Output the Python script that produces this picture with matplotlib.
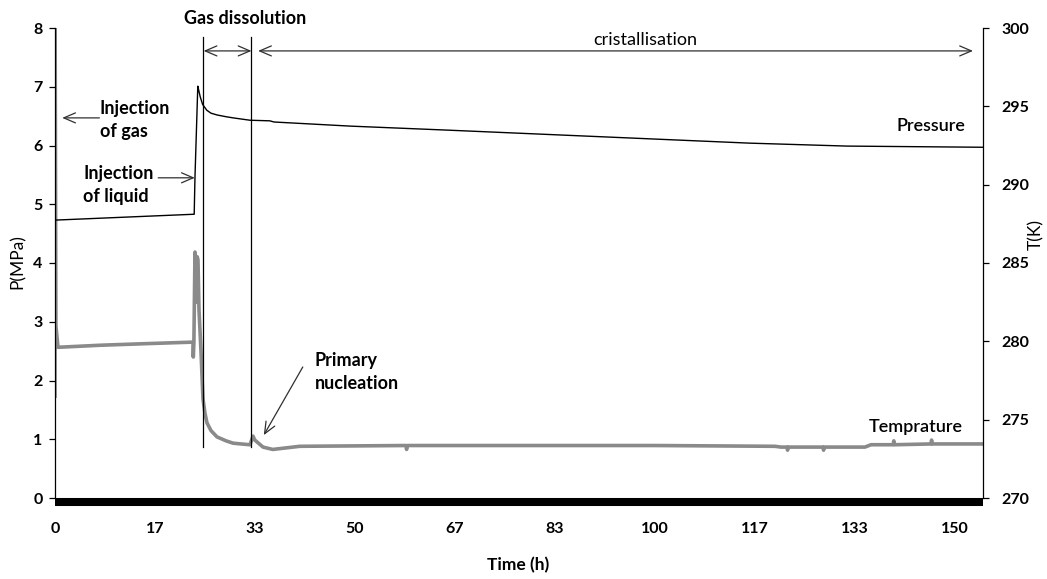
import matplotlib
matplotlib.use("Agg")
import matplotlib.pyplot as plt
from matplotlib.transforms import ScaledTranslation

plt.rcParams['font.family'] = ['Lato', 'DejaVu Sans']

# Pressure record (left axis, MPa) against time in hours
p_time = [0.0, 23.2, 23.33, 23.8, 24.0, 24.2, 24.6, 25.3, 26.0, 27.0, 28.5,
          29.7, 32.5, 35.8, 36.5, 49.2, 65.8, 115.8, 132.0, 154.67]
p_vals = [4.73, 4.83, 5.46, 7.01, 6.92, 6.83, 6.70, 6.60, 6.55, 6.52, 6.49,
          6.47, 6.43, 6.42, 6.40, 6.33, 6.26, 6.04, 5.99, 5.97]

# Temperature record (right axis, K)
t_time = [0.0, 0.02, 0.15, 0.5, 7.5, 15.0, 23.0, 23.05, 23.15, 23.33, 23.5,
          23.7, 23.83, 24.0, 24.33, 24.5, 24.67, 25.0, 25.33, 26.0, 27.0,
          28.5, 29.67, 31.0, 32.5, 33.0, 33.3, 34.67, 36.3, 40.8, 58.5, 58.6,
          58.7, 100.0, 120.0, 121.0, 122.0, 122.1, 122.2, 128.0, 128.1, 128.2,
          135.0, 136.0, 139.7, 139.8, 139.9, 146.0, 146.1, 146.2, 154.67]
t_vals = [276.5, 300.0, 281.0, 279.62, 279.75, 279.85, 279.95, 279.0, 279.95,
          285.7, 282.5, 285.4, 285.2, 282.0, 279.4, 277.8, 276.3, 275.4,
          274.8, 274.3, 273.9, 273.65, 273.5, 273.45, 273.4, 273.95, 273.7,
          273.25, 273.1, 273.3, 273.35, 273.1, 273.35, 273.35, 273.3, 273.25,
          273.25, 273.05, 273.25, 273.25, 273.05, 273.25, 273.25, 273.4, 273.4,
          273.65, 273.4, 273.45, 273.7, 273.45, 273.45]

# Zero reference series drawn along the time axis
base_time = [0.0, 154.67]
base_vals = [0.0, 0.0]

x_ticks = [0, 50 / 3, 100 / 3, 50, 200 / 3, 250 / 3, 100, 350 / 3, 400 / 3, 150]
x_labels = ['0', '17', '33', '50', '67', '83', '100', '117', '133', '150']
p_ticks = [0, 1, 2, 3, 4, 5, 6, 7, 8]
t_ticks = [270, 275, 280, 285, 290, 295, 300]

# Phase boundaries (h)
phase_start = 24.67
phase_split = 32.75
phase_end = 153.0

fig = plt.figure(figsize=(10.47, 5.79), dpi=100)
ax = fig.add_axes([55 / 1047, 1 - 498 / 579, 928 / 1047, 470 / 579])
ax2 = ax.twinx()

ax.set_xlim(0, 154.67)
ax.set_ylim(0, 8)
ax2.set_ylim(270, 300)

ax2.plot(t_time, t_vals, color='#8a8a8a', lw=2.6, solid_joinstyle='round', zorder=2)
ax.plot(p_time, p_vals, color='black', lw=1.0, zorder=3)
ax.plot(base_time, base_vals, color='black', lw=5.8, clip_on=False,
        transform=ax.transData + ScaledTranslation(0, -4 / 100, fig.dpi_scale_trans),
        solid_capstyle='butt', zorder=5)

# Put the pressure axes above the temperature one so annotations draw on top
ax.set_zorder(ax2.get_zorder() + 1)
ax.patch.set_visible(False)

for s in ['top', 'right', 'bottom']:
    ax.spines[s].set_visible(False)
for s in ['top', 'left', 'bottom']:
    ax2.spines[s].set_visible(False)
ax.spines['left'].set_linewidth(0.9)
ax2.spines['right'].set_linewidth(0.9)

tick_font = dict(fontsize=11.5, fontweight='bold')
ax.set_xticks(x_ticks)
ax.set_xticklabels(x_labels, **tick_font)
ax.tick_params(axis='x', length=0, pad=17)
ax.set_yticks(p_ticks)
ax.set_yticklabels([str(v) for v in p_ticks], **tick_font)
ax.tick_params(axis='y', length=4, width=0.9, pad=5, direction='out')
ax2.set_yticks(t_ticks)
ax2.set_yticklabels([str(v) for v in t_ticks], **tick_font)
ax2.tick_params(axis='y', length=4, width=0.9, pad=9, direction='out')

fig.text(18 / 1047, 1 - 262 / 579, 'P(MPa)', rotation=90, ha='center', va='center', fontsize=12.5)
fig.text(1036 / 1047, 1 - 235 / 579, 'T(K)', rotation=90, ha='center', va='center', fontsize=12.5)
fig.text(518 / 1047, 1 - 565 / 579, 'Time (h)', ha='center', va='center', fontsize=12.5, fontweight='bold')

# Phase markers
for tx in (phase_start, phase_split):
    ax.plot([tx, tx], [0.87, 7.85], color='black', lw=0.9, zorder=4)

arrow_kw = dict(arrowstyle='<->,head_length=0.7,head_width=0.3', color='#303030', lw=0.9,
                shrinkA=0, shrinkB=0, mutation_scale=12)
ax.annotate('', xy=(phase_split, 7.61), xytext=(phase_start + 0.1, 7.61),
            arrowprops=arrow_kw, annotation_clip=False)
ax.annotate('', xy=(phase_end, 7.61), xytext=(phase_split + 1.1, 7.61),
            arrowprops=arrow_kw, annotation_clip=False)

ax.text(31.7, 8.17, 'Gas dissolution', ha='center', va='center', fontsize=13,
        fontweight='bold', clip_on=False)
ax.text(98.3, 7.80, 'cristallisation', ha='center', va='center', fontsize=13)

one_kw = dict(arrowstyle='->,head_length=0.7,head_width=0.3', color='#303030', lw=0.9,
              shrinkA=0, shrinkB=0, mutation_scale=12)
ax.text(7.5, 6.43, 'Injection\nof gas', ha='left', va='center', fontsize=13,
        fontweight='bold', linespacing=1.4)
ax.annotate('', xy=(1.2, 6.47), xytext=(7.4, 6.47), arrowprops=one_kw)

ax.text(4.67, 5.33, 'Injection\nof liquid', ha='left', va='center', fontsize=13,
        fontweight='bold', linespacing=1.4)
ax.annotate('', xy=(23.3, 5.45), xytext=(17.2, 5.45), arrowprops=one_kw)

ax.text(43.3, 2.14, 'Primary\nnucleation', ha='left', va='center', fontsize=13,
        fontweight='bold', linespacing=1.4)
ax.annotate('', xy=(34.8, 1.07), xytext=(41.3, 2.23), arrowprops=one_kw)

ax.text(151.8, 6.33, 'Pressure', ha='right', va='center', fontsize=13, fontweight='semibold')
ax.text(151.3, 1.21, 'Temprature', ha='right', va='center', fontsize=13, fontweight='semibold')

fig.savefig('out.png', dpi=100)
